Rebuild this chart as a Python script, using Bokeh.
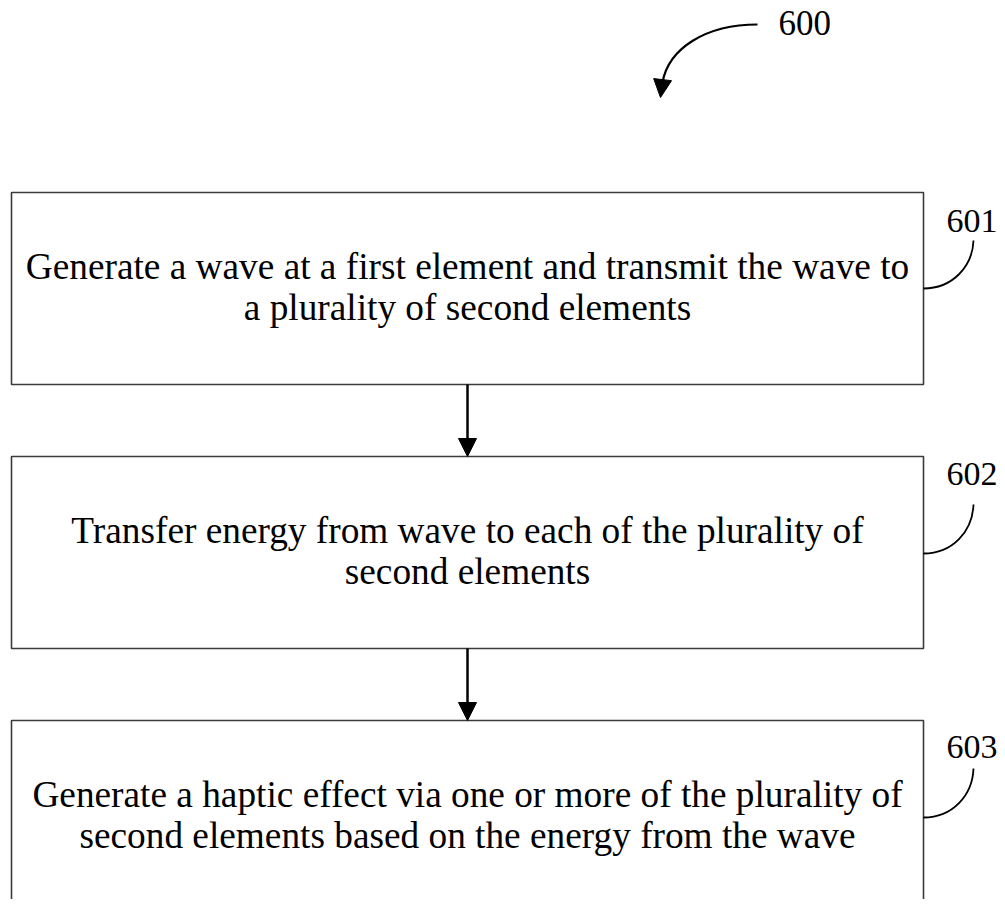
from bokeh.plotting import figure
from bokeh.models import Range1d, Arrow, NormalHead
from bokeh.core.properties import value
from bokeh.embed import file_html
from bokeh.resources import INLINE

# ---- content ----
step_ids = ["601", "602", "603"]
step_line1 = [
    "Generate a wave at a first element and transmit the wave to",
    "Transfer energy from wave to each of the plurality of",
    "Generate a haptic effect via one or more of the plurality of",
]
step_line2 = [
    "a plurality of second elements",
    "second elements",
    "second elements based on the energy from the wave",
]
figure_id = "600"

# ---- layout (reference pixel coordinates, y downwards) ----
box_left, box_right = 11, 923
box_tops = [192, 456, 720]
box_h = 192
line1_off, line2_off = 74, 115
label_x = 946
label_baselines = [220, 473, 746]
leader_y = [288, 553, 817]
leader_end = [(973, 240), (973, 504), (973, 768)]
FONT = value("Liberation Serif")

p = figure(width=997, height=899, x_range=Range1d(0, 997), y_range=Range1d(899, 0),
           output_backend="svg", toolbar_location=None, min_border=0)
p.axis.visible = False
p.grid.visible = False
p.outline_line_color = None
p.background_fill_color = "white"
p.border_fill_color = "white"

# boxes
p.quad(left=[box_left] * 3, right=[box_right] * 3, top=box_tops,
       bottom=[t + box_h for t in box_tops], fill_color="white",
       line_color="#3a3a3a", line_width=1.6)

cx = (box_left + box_right) / 2
p.text(x=[cx] * 3, y=[t + line1_off for t in box_tops], text=step_line1,
       text_align="center", text_baseline="alphabetic", text_font=FONT,
       text_font_size="37.3px", text_color="black")
p.text(x=[cx] * 3, y=[t + line2_off for t in box_tops], text=step_line2,
       text_align="center", text_baseline="alphabetic", text_font=FONT,
       text_font_size="37.3px", text_color="black")

# arrows between boxes
for i in range(2):
    p.add_layout(Arrow(end=NormalHead(size=18, fill_color="black", line_color="black"),
                       x_start=467, y_start=box_tops[i] + box_h,
                       x_end=467, y_end=box_tops[i + 1],
                       line_width=2.5, line_color="black"))

# step labels and leader curves
p.text(x=[label_x] * 3, y=label_baselines, text=step_ids, text_align="left",
       text_baseline="alphabetic", text_font=FONT, text_font_size="34px",
       text_color="black")
p.bezier(x0=[box_right] * 3, y0=leader_y,
         x1=[e[0] for e in leader_end], y1=[e[1] for e in leader_end],
         cx0=[952] * 3, cy0=leader_y,
         cx1=[972] * 3, cy1=[y - 22 for y in leader_y],
         line_color="black", line_width=1.8)

# figure number and curved arrow
p.text(x=[778], y=[22], text=[figure_id], text_align="left",
       text_baseline="alphabetic", text_font=FONT, text_font_size="35px",
       text_color="black")
p.bezier(x0=[757], y0=[24], x1=[662], y1=[82], cx0=[705], cy0=[24],
         cx1=[668], cy1=[48], line_color="black", line_width=2.2)
p.add_layout(Arrow(end=NormalHead(size=18, fill_color="black", line_color="black"),
                   x_start=662, y_start=80, x_end=660, y_end=97,
                   line_width=2.2, line_color="black"))

open("out.html", "w").write(file_html(p, INLINE))
